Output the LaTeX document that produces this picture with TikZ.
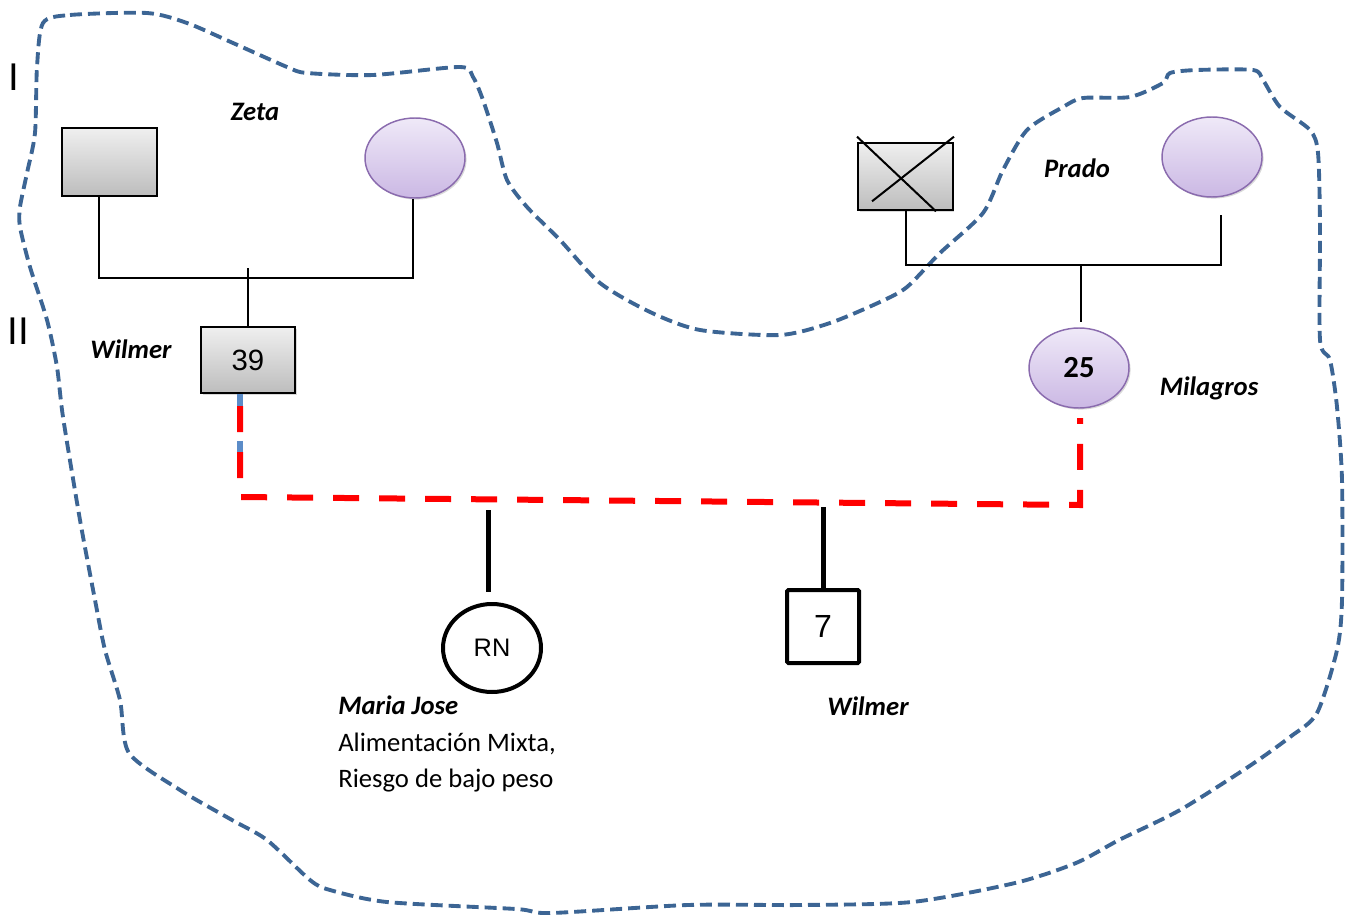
\documentclass[tikz,border=0pt]{standalone}
\usepackage{fontspec}
\setmainfont{Carlito}
\newfontfamily\arialf{Liberation Sans}
\usetikzlibrary{shapes.geometric,shadows}
\definecolor{outline}{HTML}{3C6594}
\definecolor{lavtop}{HTML}{EFE9F8}
\definecolor{lavbot}{HTML}{CBB8E4}
\definecolor{lavedge}{HTML}{8A6BAE}
\definecolor{greytop}{HTML}{EFEFEF}
\definecolor{greybot}{HTML}{BDBDBD}
\definecolor{bondred}{HTML}{FF0000}
\definecolor{bondblue}{HTML}{5B8CC8}

\begin{document}
\begin{tikzpicture}[x=0.75pt,y=-0.75pt,
  softshadow/.style={drop shadow={opacity=0.3,shadow xshift=1.2pt,shadow yshift=-1.2pt}},
  malebox/.style={rectangle,draw=black,line width=1.7pt,top color=greytop,bottom color=greybot,
    inner sep=0pt,minimum width=71pt,minimum height=50.5pt,softshadow},
  femaleell/.style={ellipse,draw=lavedge,line width=1.1pt,top color=lavtop,bottom color=lavbot,
    inner sep=0pt,minimum width=75pt,minimum height=60pt,softshadow},
  kin/.style={draw=black,line width=1.5pt},
  kid/.style={draw=black,line width=3.75pt},
  bond/.style={draw=bondred,line width=4.5pt,dash pattern=on 19.5pt off 15pt,dash phase=25.5pt},
  bluebit/.style={draw=bondblue,line width=4pt,dash pattern=on 9pt off 26pt},
  lbl/.style={font=\fontsize{20}{24}\selectfont\bfseries\itshape,inner sep=0pt,anchor=base},
  txt/.style={font=\fontsize{20}{24}\selectfont,inner sep=0pt,anchor=base west},
  roman/.style={font=\arialf\fontsize{29}{32}\selectfont,inner sep=0pt,anchor=base},
  numtxt/.style={font=\arialf\fontsize{22}{26}\selectfont}
]
\useasboundingbox (0,0) rectangle (1345,917);

% household boundary
\draw[outline,line width=2.9pt,dash pattern=on 9pt off 4.5pt,line join=round]
  plot[smooth cycle,tension=0.45] coordinates {
  (43,23) (70,15) (147,13) (187,23) (233,43) (287,67) (307,73) (373,75) (460,67)
  (473,77) (483,100) (497,143) (507,180) (527,207) (560,240) (600,283) (650,312)
  (700,330) (780,335) (830,323) (880,302) (907,287) (940,253) (983,213) (1003,170)
  (1027,130) (1063,107) (1083,98) (1130,97) (1163,83) (1170,73) (1197,70) (1253,70)
  (1263,80) (1280,107) (1310,130) (1318,153) (1320,227) (1320,340) (1330,360)
  (1337,407) (1342,480) (1342,600) (1337,650) (1317,713) (1290,737) (1248,767)
  (1180,810) (1119,840) (1076,863) (1015,883) (912,902) (800,905) (688,905)
  (551,913) (516,909) (387,902) (330,890) (310,880) (267,840) (232,820) (180,790)
  (129,753) (120,700) (105,650) (95,600) (80,520) (63,417) (57,367) (47,320)
  (30,267) (20,227) (20,207) (27,173) (35,133) (37,67)};

% generation markers
\node[roman] (genI)  at (14,90)  {I};
\node[roman] (genII) at (18,344) {II};

% generation I
\node[malebox]   (gf1) at (109.5,162) {};
\node[femaleell] (gm1) at (415,158) {};
\node[malebox]   (gf2) at (905.5,176.5) {};
\node[femaleell] (gm2) at (1212,157) {};

% generation II
\node[malebox,minimum width=70.5pt,minimum height=49.5pt,numtxt] (p39) at (248,360) {39};
\node[femaleell,font=\fontsize{23}{26}\selectfont\bfseries] (m25) at (1079,368) {25};

% generation III
\node[ellipse,draw=black,line width=3pt,fill=white,inner sep=0pt,
      minimum width=73.5pt,minimum height=66pt,font=\arialf\fontsize{19}{22}\selectfont] (rn) at (492,648) {RN};
\node[rectangle,draw=black,line width=3pt,fill=white,inner sep=0pt,rounded corners=1pt,
      minimum width=54pt,minimum height=54.75pt,font=\arialf\fontsize{24}{26}\selectfont] (b7) at (823,626.5) {7};

% deceased mark
\draw[kin] ([yshift=3.75pt]gf2.north west) -- ([xshift=-13.5pt]gf2.south east);
\draw[kin] ([xshift=11.25pt,yshift=7.5pt]gf2.south west) -- ([yshift=3.75pt]gf2.north east);

% junction points
\coordinate (j1)  at (248,278);
\coordinate (j1t) at (248,268);
\coordinate (j2)  at (1081,265);
\coordinate (r2)  at (1221,215);
\coordinate (rl)  at (240,497);
\coordinate (rr)  at (1080,505);
\coordinate (rt)  at (1080,418);
\coordinate (c1)  at (488,510);
\coordinate (c2)  at (823,507);

% parents to children
\draw[kin] ([xshift=-7.9pt]gf1.south) |- (j1) -| ([xshift=-1.5pt]gm1.south);
\draw[kin] (j1t) -- (p39.north);
\draw[kin] (gf2.south) |- (j2) -| (r2);
\draw[kin,shorten >=3.75pt] (j2) -- (j2 |- m25.north);

% union of generation II
\draw[bluebit] ([xshift=-6pt]p39.south) -- ([xshift=-6pt,yshift=-46pt]p39.south);
\draw[bond] ([xshift=-6pt]p39.south) |- (rl) -- (rr) -- (rt);

\draw[kid,shorten >=7.5pt] (c1) -- (c1 |- rn.north);
\draw[kid] (c2) -- (b7.north);

% names
\node[lbl] (nZeta)  at (255,120)  {Zeta};
\node[lbl] (nWil)   at (131,358)  {Wilmer};
\node[lbl] (nPrado) at (1077,177) {Prado};
\node[lbl] (nMil)   at (1209,395) {Milagros};
\node[lbl] (nWil2)  at (868,715)  {Wilmer};
\node[txt,font=\fontsize{20}{24}\selectfont\bfseries\itshape] (nMJ) at (338,714) {Maria Jose};
\node[txt] (nMJa) at (338,751) {Alimentación Mixta,};
\node[txt] (nMJb) at (338,787) {Riesgo de bajo peso};
\end{tikzpicture}
\end{document}
